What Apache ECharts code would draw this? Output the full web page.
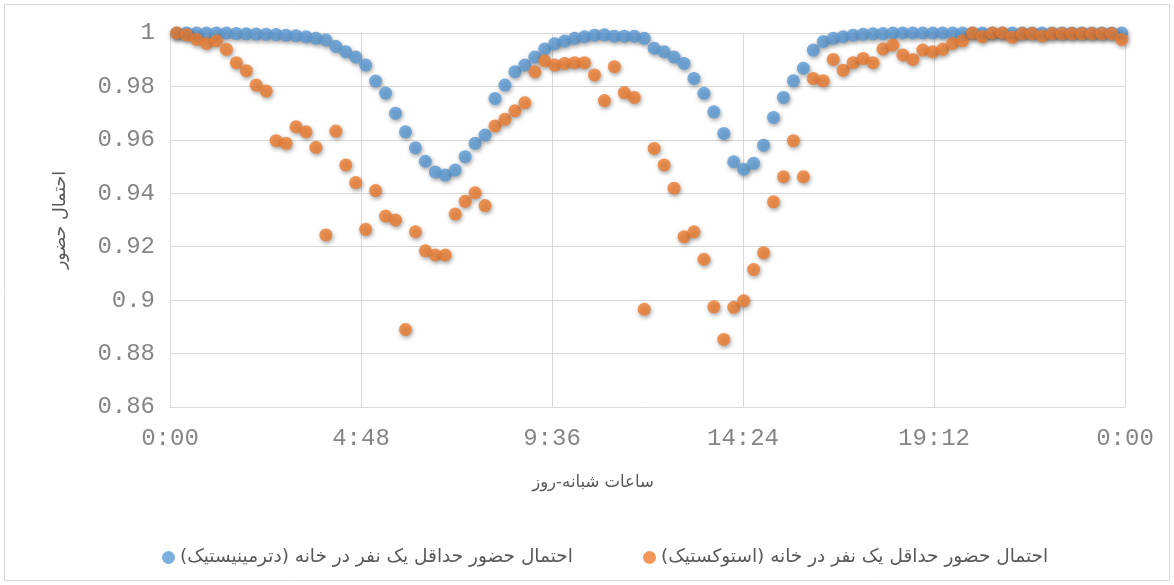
<!DOCTYPE html>
<html>
<head>
<meta charset="utf-8">
<script src="https://cdn.jsdelivr.net/npm/echarts@6/dist/echarts.min.js"></script>
<style>
html,body{margin:0;padding:0;background:#fff;}
#chart{width:1174px;height:585px;}
</style>
</head>
<body>
<div id="chart"></div>
<script>
// Sampling grid: one reading every 15 minutes, starting at 0:10
const startMinute = 10;
const stepMinutes = 15;

// X-axis tick labels (every 4:48)
const xTickLabels = ['0:00', '4:48', '9:36', '14:24', '19:12', '0:00'];

const seriesNames = [
  '\u200Fاحتمال حضور حداقل یک نفر در خانه (دترمینیستیک)\u200F',
  '\u200Fاحتمال حضور حداقل یک نفر در خانه (استوکستیک)\u200F'
];

// Deterministic probability
const deterministic = [
  1.0, 1.0, 1.0, 1.0, 1.0, 1.0, 0.9998, 0.9997, 0.9996, 0.9995,
  0.9994, 0.9992, 0.999, 0.9986, 0.998, 0.9974, 0.995, 0.993, 0.991, 0.988,
  0.982, 0.9775, 0.970, 0.963, 0.957, 0.952, 0.948, 0.9468, 0.9487, 0.9537,
  0.9587, 0.9618, 0.9755, 0.9805, 0.9855, 0.988, 0.991, 0.994, 0.996, 0.997,
  0.998, 0.9986, 0.9992, 0.9993, 0.9988, 0.9988, 0.9988, 0.998, 0.9943, 0.993,
  0.991, 0.9886, 0.983, 0.9774, 0.9705, 0.9624, 0.9518, 0.949, 0.9512, 0.958,
  0.9684, 0.9759, 0.9821, 0.9868, 0.9936, 0.9968, 0.998, 0.9986, 0.9992, 0.9995,
  0.9997, 0.9998, 1.0, 1.0, 1.0, 1.0, 1.0, 1.0, 1.0, 1.0,
  1.0, 1.0, 1.0, 1.0, 1.0, 1.0, 1.0, 1.0, 1.0, 1.0,
  1.0, 1.0, 1.0, 1.0, 1.0, 1.0
];

// Stochastic probability
const stochastic = [
  1.0, 0.9993, 0.9976, 0.9961, 0.9971, 0.9939, 0.9889, 0.9859, 0.9805, 0.9783,
  0.9597, 0.9587, 0.9649, 0.963, 0.9572, 0.9244, 0.9633, 0.9506, 0.944, 0.9265,
  0.941, 0.9315, 0.930, 0.889, 0.9256, 0.9185, 0.9169, 0.9169, 0.9322, 0.937,
  0.9402, 0.9354, 0.9652, 0.9677, 0.9709, 0.9739, 0.9855, 0.9896, 0.988, 0.9886,
  0.9889, 0.9889, 0.9843, 0.9747, 0.9874, 0.9777, 0.9759, 0.8966, 0.9568, 0.9506,
  0.9419, 0.9237, 0.9256, 0.9153, 0.8975, 0.8853, 0.8973, 0.8998, 0.9115, 0.9177,
  0.9368, 0.9462, 0.9597, 0.9462, 0.983, 0.9821, 0.9901, 0.9861, 0.9889, 0.9905,
  0.9889, 0.994, 0.9955, 0.9918, 0.9901, 0.9936, 0.993, 0.9939, 0.9961, 0.9971,
  1.0, 0.9986, 1.0, 1.0, 0.9984, 0.9998, 0.9998, 0.9989, 0.9998, 0.9998,
  0.9998, 0.9998, 0.9998, 0.9998, 0.9998, 0.9976
];

function pairs(vals) {
  return vals.map((v, i) => [startMinute + stepMinutes * i, v]);
}

const monoFont = '"Liberation Mono", "DejaVu Sans Mono", monospace';
const arFont = '"DejaVu Sans", sans-serif';

const chart = echarts.init(document.getElementById('chart'), null, {renderer: 'canvas'});
const shadow = {shadowBlur: 4, shadowColor: 'rgba(0,0,0,0.45)', shadowOffsetX: 1, shadowOffsetY: 2};

chart.setOption({
  animation: false,
  backgroundColor: '#ffffff',
  grid: {left: 170, right: 49, top: 33, bottom: 178, containLabel: false},
  xAxis: {
    type: 'value', min: 0, max: 1440, interval: 288,
    axisLine: {show: true, lineStyle: {color: '#d9d9d9', width: 1}},
    axisTick: {show: false},
    splitLine: {show: true, lineStyle: {color: '#d9d9d9', width: 1}},
    axisLabel: {
      margin: 20, color: '#858585', fontFamily: monoFont, fontSize: 24,
      formatter: function (v) { return xTickLabels[Math.round(v / 288)]; }
    }
  },
  yAxis: {
    type: 'value', min: 0.86, max: 1, interval: 0.02,
    axisLine: {show: false},
    axisTick: {show: false},
    splitLine: {show: true, lineStyle: {color: '#d9d9d9', width: 1}},
    axisLabel: {margin: 15, color: '#858585', fontFamily: monoFont, fontSize: 24}
  },
  legend: [
    {data: [seriesNames[0]], left: 157, top: 543, icon: 'circle', itemWidth: 13, itemHeight: 13, itemGap: 6,
     textStyle: {color: '#595959', fontFamily: arFont, fontSize: 18.5}},
    {data: [seriesNames[1]], left: 638, top: 543, icon: 'circle', itemWidth: 13, itemHeight: 13, itemGap: 6,
     textStyle: {color: '#595959', fontFamily: arFont, fontSize: 18.5}}
  ],
  graphic: [
    {type: 'rect', silent: true, shape: {x: 4.5, y: 4.5, width: 1165, height: 576},
     style: {fill: 'none', stroke: '#d9d9d9', lineWidth: 1}},
    {type: 'text', x: 593, y: 483, silent: true,
     style: {text: 'ساعات شبانه-روز', fill: '#595959', font: '16.5px ' + arFont, textAlign: 'center', textVerticalAlign: 'middle'}},
    {type: 'text', x: 60, y: 220, rotation: Math.PI / 2, silent: true,
     style: {text: 'احتمال حضور', fill: '#595959', font: '17.5px ' + arFont, textAlign: 'center', textVerticalAlign: 'middle'}}
  ],
  series: [
    {name: seriesNames[0], type: 'scatter', data: pairs(deterministic), symbol: 'circle', symbolSize: 13,
     itemStyle: Object.assign({color: '#5B9BD5'}, shadow)},
    {name: seriesNames[1], type: 'scatter', data: pairs(stochastic), symbol: 'circle', symbolSize: 13,
     itemStyle: Object.assign({color: '#ED7D31'}, shadow)}
  ]
});
</script>
</body>
</html>
